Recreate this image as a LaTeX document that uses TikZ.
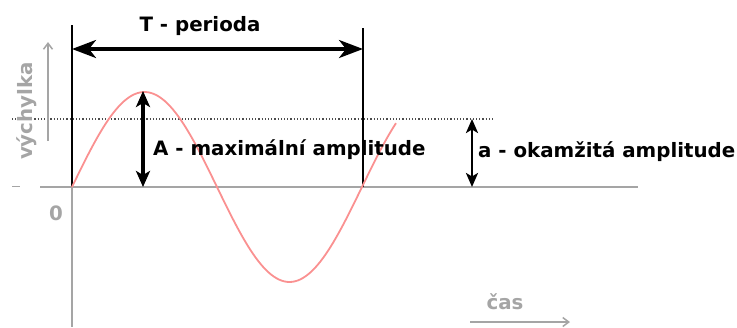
\documentclass[tikz,border=0pt]{standalone}
\usepackage{fontspec}
\setmainfont{DejaVu Sans}
\usetikzlibrary{arrows.meta}
\definecolor{axisgray}{RGB}{165,165,165}
\definecolor{wavepink}{RGB}{250,145,145}
\tikzset{
  lbl/.style={font=\bfseries\fontsize{19.8}{23}\selectfont, inner sep=0pt},
  glbl/.style={lbl, text=axisgray},
  bigarrow/.style={line width=3.4pt, {Stealth[length=24pt,width=18pt,inset=7pt]}-{Stealth[length=24pt,width=18pt,inset=7pt]}},
  dimarrow/.style={line width=3.2pt, {Stealth[length=16pt,width=14pt,inset=4pt]}-{Stealth[length=16pt,width=14pt,inset=4pt]}},
  smallarrow/.style={line width=2.6pt, {Stealth[length=14pt,width=12pt,inset=3.5pt]}-{Stealth[length=14pt,width=12pt,inset=3.5pt]}},
  guide/.style={line width=1.7pt, black},
  axis/.style={line width=1.6pt, axisgray},
  garrow/.style={line width=1.5pt, axisgray, -{Straight Barb[length=6pt,width=9pt]}},
}
\begin{document}
\begin{tikzpicture}[x=1pt,y=-1pt]
\useasboundingbox (0,0) rectangle (737,327);
% coordinates
\coordinate (o) at (72,187);
\coordinate (ybot) at (72,327);
\coordinate (ltop) at (72,25);
\coordinate (rtop) at (363,28);
\coordinate (rbot) at (363,187);
\coordinate (xl) at (40,187);
\coordinate (xr) at (638,187);
\coordinate (tickl) at (12,186);
\coordinate (tickr) at (20,186);
\coordinate (dl) at (12,119);
\coordinate (dr) at (494,119);
\coordinate (Tl) at (72,49);
\coordinate (Tr) at (363,49);
\coordinate (At) at (143,91);
\coordinate (Ab) at (143,187);
\coordinate (at) at (472,119);
\coordinate (ab) at (472,187);
\coordinate (vb) at (48,141);
\coordinate (vt) at (48,42);
\coordinate (cl) at (470,322);
\coordinate (cr) at (570,322);
% axes
\draw[axis] (xl) -- (xr);
\draw[axis] (o) -- (ybot);
\draw[axisgray, line width=1pt] (tickl) -- (tickr);
\draw[dotted, line width=1.2pt, black!70] (dl) -- (dr);
% guides
\draw[guide] (ltop) -- (o);
\draw[guide] (rtop) -- (rbot);
% wave
\draw[wavepink, line width=1.8pt] plot[domain=72:396, samples=120, smooth] (\x, {187-95*sin((\x-72)/290*360)});
% dimension arrows
\draw[bigarrow] (Tl) -- (Tr);
\draw[dimarrow] (At) -- (Ab);
\draw[smallarrow] (at) -- (ab);
% labels
\node[lbl] (T) at (200,26) {T - perioda};
\node[lbl, anchor=west] (A) at (153,150) {A - maximální amplitude};
\node[lbl, anchor=west] (a) at (478,152) {a - okamžitá amplitude};
\node[glbl, rotate=90] (v) at (27,111) {výchylka};
\node[glbl] (zero) at (56,213) {0};
\node[glbl] (cas) at (505,302) {čas};
\draw[garrow] (vb) -- (vt);
\draw[garrow] (cl) -- (cr);
\end{tikzpicture}
\end{document}
